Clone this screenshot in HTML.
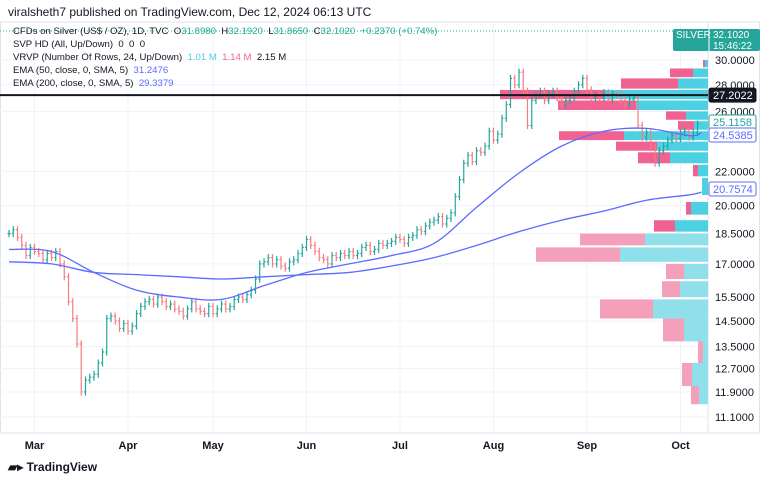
<!DOCTYPE html>
<html><head><meta charset="utf-8"><style>
body{margin:0;width:768px;height:481px;background:#fff;font-family:"Liberation Sans",sans-serif;overflow:hidden;position:relative}
.t{position:absolute;white-space:nowrap}
</style></head><body>
<div class="t" style="left:8px;top:5px;font-size:12px;color:#131722">viralsheth7 published on TradingView.com, Dec 12, 2024 06:13 UTC</div>
<svg id="c" width="768" height="481" style="position:absolute;left:0;top:0"></svg>
<div style="position:absolute;left:13px;top:25px;font-size:9.6px;color:#131722;line-height:13px">
<div>CFDs on Silver (US$ / OZ), 1D, TVC&nbsp; O<span style="color:#22ab94">31.8980</span>&nbsp; H<span style="color:#22ab94">32.1920</span>&nbsp; L<span style="color:#22ab94">31.8650</span>&nbsp; C<span style="color:#22ab94">32.1020</span>&nbsp; <span style="color:#22ab94">+0.2370 (+0.74%)</span></div>
<div>SVP HD (All, Up/Down)&nbsp; 0&nbsp; 0&nbsp; 0</div>
<div>VRVP (Number Of Rows, 24, Up/Down)&nbsp; <span style="color:#4dd0e1">1.01 M</span>&nbsp; <span style="color:#f06292">1.14 M</span>&nbsp; 2.15 M</div>
<div>EMA (50, close, 0, SMA, 5)&nbsp; <span style="color:#5b6cff">31.2476</span></div>
<div>EMA (200, close, 0, SMA, 5)&nbsp; <span style="color:#5b6cff">29.3379</span></div>
</div>
<div class="t" style="left:8px;top:460px;font-size:12px;font-weight:bold;color:#131722">▰▸ TradingView</div>
<script>
const closes=[18.5,18.7,18.3,17.9,17.4,17.8,17.6,17.5,17.2,17.5,
17.3,17.6,17.0,16.4,15.3,14.6,13.6,11.9,12.3,12.4,
12.5,12.9,13.3,14.6,14.7,14.5,14.2,14.4,14.1,14.3,
14.8,15.1,15.3,15.4,15.2,15.5,15.3,15.1,15.2,15.0,
14.9,14.7,15.0,15.3,15.0,14.9,14.8,15.1,14.8,15.0,
15.2,15.0,15.1,15.4,15.5,15.4,15.6,15.8,16.3,17.0,
17.1,17.3,17.0,17.2,16.9,16.8,17.1,17.2,17.5,17.8,
18.2,17.9,17.6,17.3,17.2,17.0,17.4,17.3,17.5,17.4,
17.6,17.4,17.5,17.8,17.9,17.6,17.7,18.0,17.9,18.0,
18.1,18.3,18.2,18.0,18.3,18.4,18.7,18.6,18.9,19.1,
19.2,19.4,19.0,19.3,19.6,20.5,21.5,22.5,23.0,22.6,
23.3,23.2,23.6,24.6,24.0,24.4,25.5,26.5,28.5,28.0,
29.0,27.5,25.0,26.8,27.2,27.5,26.8,27.3,27.5,27.0,
26.5,26.8,27.0,27.5,28.0,28.5,27.6,27.0,27.2,27.0,
27.4,26.9,27.3,27.2,26.8,26.5,26.9,27.0,25.0,24.2,
24.5,23.5,22.5,23.3,23.6,24.0,24.3,24.1,24.5,24.6,
24.2,24.5,25.1];
const ema50=[17.7,17.6,16.6,15.8,15.5,15.4,16.0,16.6,17.0,17.4,18.0,19.9,21.9,23.6,24.6,24.8,24.3,24.5];
const ema200=[17.1,17.0,16.6,16.5,16.4,16.3,16.4,16.5,16.6,16.9,17.3,17.9,18.6,19.2,19.7,20.3,20.6,20.76];
const yTicks=[30,28,26,22,20,18.5,17,15.5,14.5,13.5,12.7,11.9,11.1];
const months=["Mar","Apr","May","Jun","Jul","Aug","Sep","Oct"];
const monthBar=[6,28,48,70,92,114,136,158];
const profTop=[30.0,29.3,28.5,27.6,26.8,26.0,25.3,24.6,23.9,23.2,22.4,21.6,20.2,19.2,18.5,17.8,17.0,16.2,15.4,14.6,13.7,12.9,12.1];
const profBot=[29.4,28.6,27.7,26.9,26.1,25.4,24.7,24.0,23.3,22.5,21.7,20.6,19.5,18.6,17.9,17.1,16.3,15.5,14.6,13.7,12.9,12.1,11.5];
const profDown=[2,23,57,104,78,20,16,65,41,32,5,0,5,21,65,84,18,18,53,21,5,10,8];
const profUp=[3,15,30,104,72,22,14,84,51,38,10,6,17,33,63,88,24,28,55,24,5,16,9];
const NS="http://www.w3.org/2000/svg",svg=document.getElementById('c');
const L=30,R=708,T=22,B=432;
const y=v=>60+(Math.log(30)-Math.log(v))*359;
const x=i=>9+4.25*i;
function el(t,a,p){const e=document.createElementNS(NS,t);for(const k in a)e.setAttribute(k,a[k]);(p||svg).appendChild(e);return e;}
const fr=el('rect',{x:0.5,y:T,width:759,height:B-T+1,fill:'none',stroke:'#e0e3eb'});


el('line',{x1:R,y1:T,x2:R,y2:B,stroke:'#e0e3eb'});
yTicks.forEach(v=>{const g=el('line',{x1:0,x2:R,y1:y(v),y2:y(v),stroke:'#f0f3fa'});


const t=el('text',{x:715,y:y(v)+4,'font-size':11,fill:'#131722'});t.textContent=v.toFixed(4);

});
months.forEach((m,k)=>{const xx=x(monthBar[k]);el('line',{x1:xx,x2:xx,y1:T,y2:B,stroke:'#f0f3fa'});
const t=el('text',{x:xx,y:449,'font-size':11,'font-weight':'bold',fill:'#131722','text-anchor':'middle'});t.textContent=m;

});
profTop.forEach((tp,i)=>{const y1=y(tp),y2=y(profBot[i]),hot=i<=13;
const up=el('rect',{x:R-profUp[i],y:y1,width:profUp[i],height:y2-y1,fill:hot?'#4dd0e1':'#8fe0ea'});


const dn=el('rect',{x:R-profUp[i]-profDown[i],y:y1,width:profDown[i],height:y2-y1,fill:hot?'#f06292':'#f4a0bb'});

});
closes.forEach((c,i)=>{const o=i?closes[i-1]:c,hi=Math.max(o,c)*1.01,lo=Math.min(o,c)*0.99,col=c>=o?'#26a69a':'#f77c80',xx=x(i);
const g=el('g',{stroke:col,'stroke-width':1.2});


el('line',{x1:xx,x2:xx,y1:y(hi),y2:y(lo)},g);
el('line',{x1:xx-1.5,x2:xx,y1:y(o),y2:y(o)},g);
el('line',{x1:xx,x2:xx+1.5,y1:y(c),y2:y(c)},g);});
function line(arr,name){const n=arr.length;const P=arr.map((v,k)=>[k<n-1?x(k*10):x(closes.length-1)+4,y(v)]);
let d='M'+P[0][0]+','+P[0][1];
for(let i=0;i<n-1;i++){const p0=P[Math.max(0,i-1)],p1=P[i],p2=P[i+1],p3=P[Math.min(n-1,i+2)];
d+=' C'+(p1[0]+(p2[0]-p0[0])/6)+','+(p1[1]+(p2[1]-p0[1])/6)+' '+(p2[0]-(p3[0]-p1[0])/6)+','+(p2[1]-(p3[1]-p1[1])/6)+' '+p2[0]+','+p2[1];}
const p=el('path',{d:d,fill:'none',stroke:'#5b6cff','stroke-width':1.3});

}
line(ema50,'ema50-line');line(ema200,'ema200-line');
const hl=el('line',{x1:0,x2:R,y1:y(27.2022),y2:y(27.2022),stroke:'#131722','stroke-width':2});


el('line',{x1:0,x2:R,y1:31,y2:31,stroke:'#26a69a','stroke-dasharray':'1 2'});
function tag(v,yy,bg,bd,fg,name){const r=el('rect',{x:709,y:yy-7,width:47,height:14,fill:bg,stroke:bd,rx:2});


const t=el('text',{x:713,y:yy+4,'font-size':11,fill:fg});t.textContent=v;}
tag('27.2022',y(27.2022),'#131722','#131722','#fff','level-price-tag');
tag('25.1158',122,'#fff','#26a69a','#26a69a','last-price-tag');
tag('24.5385',135,'#fff','#5b6cff','#5b6cff','ema50-tag');
tag('20.7574',189,'#fff','#5b6cff','#5b6cff','ema200-tag');
const s=el('rect',{x:673,y:29,width:87,height:22,fill:'#26a69a',rx:2});


el('line',{x1:709,x2:709,y1:29,y2:51,stroke:'#fff'});
[['SILVER',676,38],['32.1020',713,38],['15:46:22',713,49]].forEach(a=>{const t=el('text',{x:a[1],y:a[2],'font-size':10,fill:'#fff'});t.textContent=a[0];});
</script>
</body></html>
